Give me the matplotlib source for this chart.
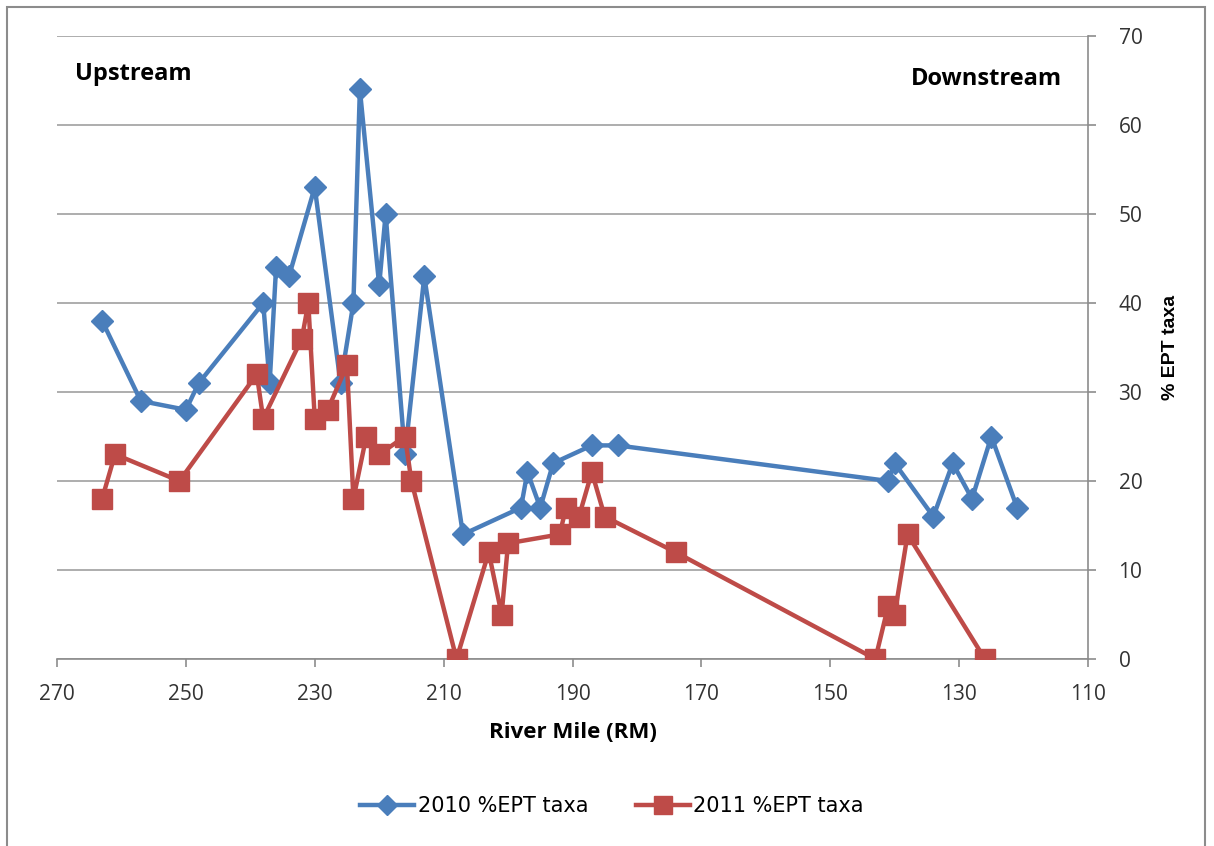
import matplotlib
matplotlib.use("Agg")
import matplotlib.pyplot as plt
from matplotlib.patches import Rectangle

# River mile and %EPT taxa per sampling site
rm_2010 = [263, 257, 250, 248, 238, 237, 236, 234, 230, 226, 224, 223, 220, 219,
           216, 213, 207, 198, 197, 195, 193, 187, 183, 141, 140, 134, 131, 128, 125, 121]
ept_2010 = [38, 29, 28, 31, 40, 31, 44, 43, 53, 31, 40, 64, 42, 50,
            23, 43, 14, 17, 21, 17, 22, 24, 24, 20, 22, 16, 22, 18, 25, 17]

rm_2011 = [263, 261, 251, 239, 238, 232, 231, 230, 228, 225, 224, 222, 220, 216, 215,
           208, 203, 201, 200, 192, 191, 189, 187, 185, 174, 143, 141, 140, 138, 126]
ept_2011 = [18, 23, 20, 32, 27, 36, 40, 27, 28, 33, 18, 25, 23, 25, 20,
            0, 12, 5, 13, 14, 17, 16, 21, 16, 12, 0, 6, 5, 14, 0]

x_ticks = list(range(270, 109, -20))
y_ticks = list(range(0, 71, 10))

BLUE = "#4A7EBB"
RED = "#BE4B48"
GRID = "#A0A0A0"
AXIS = "#8C8C8C"

W, H = 1214, 846
fig = plt.figure(figsize=(W / 100, H / 100), dpi=100)

# outer chart frame
fig.patches.append(Rectangle((7 / W, -0.01), (1205 - 7) / W, (H - 7) / H + 0.01,
                             transform=fig.transFigure, fill=False,
                             edgecolor=AXIS, linewidth=1.5))

ax = fig.add_axes([57 / W, 1 - 659 / H, (1088 - 57) / W, (659 - 36) / H])

ax.plot(rm_2010, ept_2010, color=BLUE, linewidth=3.2, marker="D", markersize=11,
        label="2010 %EPT taxa", zorder=3)
ax.plot(rm_2011, ept_2011, color=RED, linewidth=3.2, marker="s", markersize=14,
        label="2011 %EPT taxa", zorder=3)

ax.set_xlim(270, 110)
ax.set_ylim(0, 70)
ax.set_xticks(x_ticks)
ax.set_yticks(y_ticks)

ax.yaxis.tick_right()
ax.yaxis.set_label_position("right")
ax.grid(axis="y", color=GRID, linewidth=1.2, zorder=0)
ax.set_axisbelow(True)

for s in ["top", "left"]:
    ax.spines[s].set_visible(False)
for s in ["bottom", "right"]:
    ax.spines[s].set_color(AXIS)
    ax.spines[s].set_linewidth(1.2)

ax.tick_params(axis="both", direction="out", length=6, width=1.2, color=AXIS,
               labelsize=15, labelcolor="#333333")
ax.tick_params(axis="x", pad=12)
ax.tick_params(axis="y", pad=16)
for lab in ax.get_xticklabels() + ax.get_yticklabels():
    lab.set_family("Open Sans")

ax.set_xlabel("River Mile (RM)", fontsize=16, fontweight="bold", family="Open Sans",
              labelpad=12)
ax.set_ylabel("% EPT taxa", fontsize=14, fontweight="bold", family="Liberation Sans",
              labelpad=14)

fig.text(75 / W, 1 - 74 / H, "Upstream", fontsize=17, fontweight="bold",
         family="Open Sans", va="center", ha="left")
fig.text(1062 / W, 1 - 79 / H, "Downstream", fontsize=17, fontweight="bold",
         family="Open Sans", va="center", ha="right")

fig.legend(loc="center", bbox_to_anchor=(612 / W, 1 - 806 / H), ncol=2,
           frameon=False, handlelength=2.6, columnspacing=2.3,
           handletextpad=0.15, markerscale=0.9,
           prop={"family": "Liberation Sans Narrow", "size": 15})

fig.savefig("out.png", dpi=100)
